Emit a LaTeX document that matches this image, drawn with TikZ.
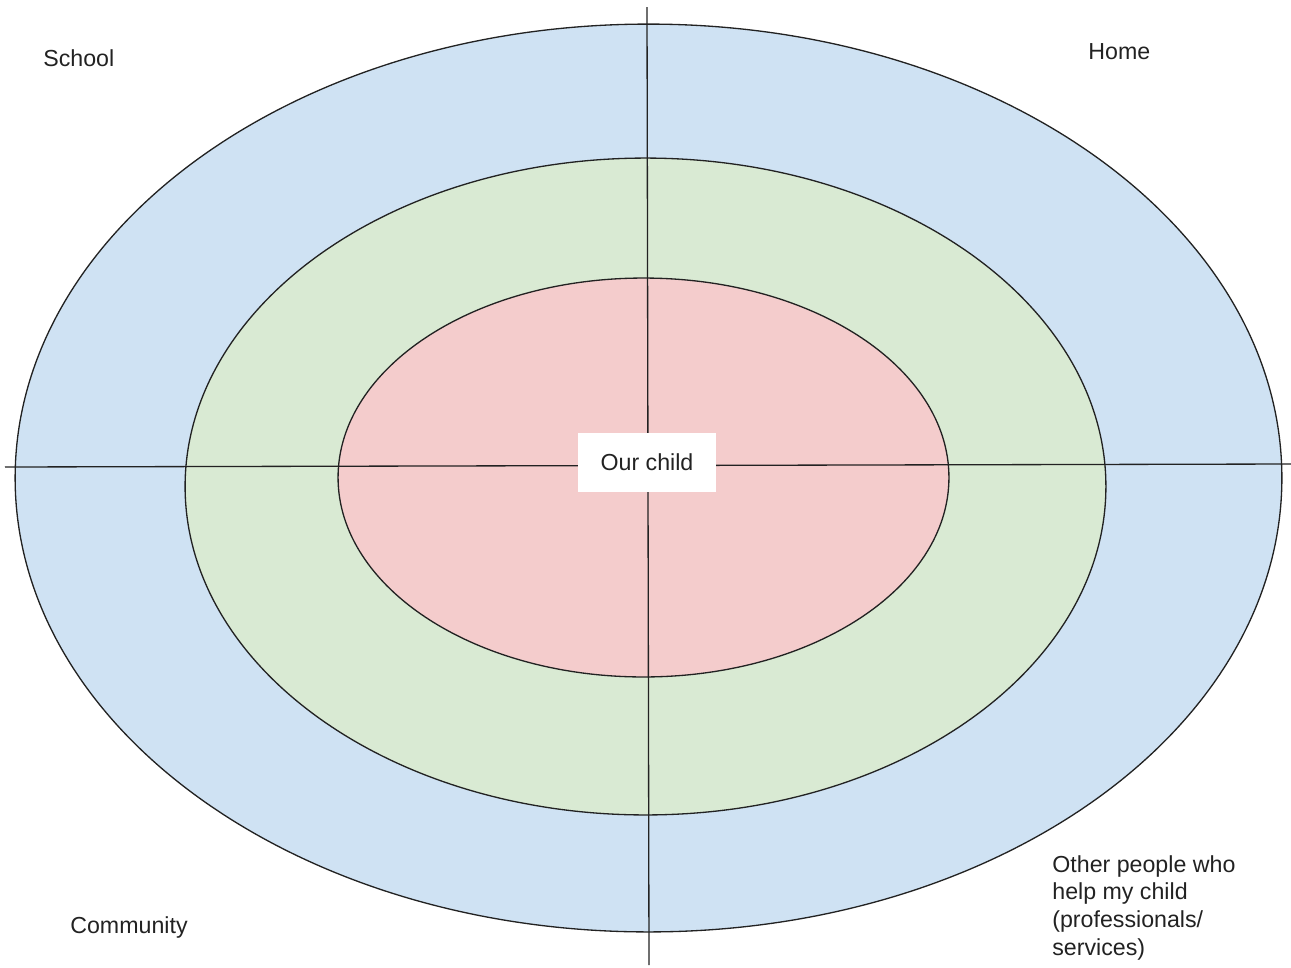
\documentclass[tikz,border=0pt]{standalone}
\usepackage{fontspec}
\setmainfont{Liberation Sans}
\usepackage{tikz}
\usetikzlibrary{positioning}
\usepackage{xcolor}
\definecolor{outerblue}{HTML}{CFE2F3}
\definecolor{midgreen}{HTML}{D9EAD3}
\definecolor{innerpink}{HTML}{F4CCCC}
\definecolor{ink}{HTML}{222222}

\begin{document}
\begin{tikzpicture}[x=0.02cm, y=-0.02cm, font=\fontsize{13.2}{15.8}\selectfont,
    ring/.style={draw=ink, line width=0.75pt},
    axis/.style={draw=ink, line width=0.75pt},
    label/.style={inner sep=0pt, text=ink}]
    \useasboundingbox (0,0) rectangle (1291,967);
    % rings, outside in
    \filldraw[ring, fill=outerblue] (648.5,478) ellipse [x radius=12.67cm, y radius=9.08cm];
    \filldraw[ring, fill=midgreen] (645.5,486.5) ellipse [x radius=9.21cm, y radius=6.57cm];
    \filldraw[ring, fill=innerpink] (643.5,477.5) ellipse [x radius=6.11cm, y radius=3.99cm];
    % quadrant lines
    \coordinate (top) at (647,7); \coordinate (bottom) at (649,965);
    \coordinate (left) at (5,467); \coordinate (right) at (1291,464);
    \draw[axis] (top) -- (bottom);
    \draw[axis] (left) -- (right);
    \node[fill=white, text=ink, minimum width=2.76cm, minimum height=1.18cm] (child) at (647,462.5) {Our child};
    % quadrant labels
    \node[label, anchor=base west] (school) at (43,66) {School};
    \node[label, anchor=base west] (home) at (1088,59) {Home};
    \node[label, anchor=base west] (community) at (70,933) {Community};
    \node[label, anchor=north west, align=left] (others) at (1052,855) {Other people who\\help my child\\(professionals/\\services)};
\end{tikzpicture}
\end{document}
